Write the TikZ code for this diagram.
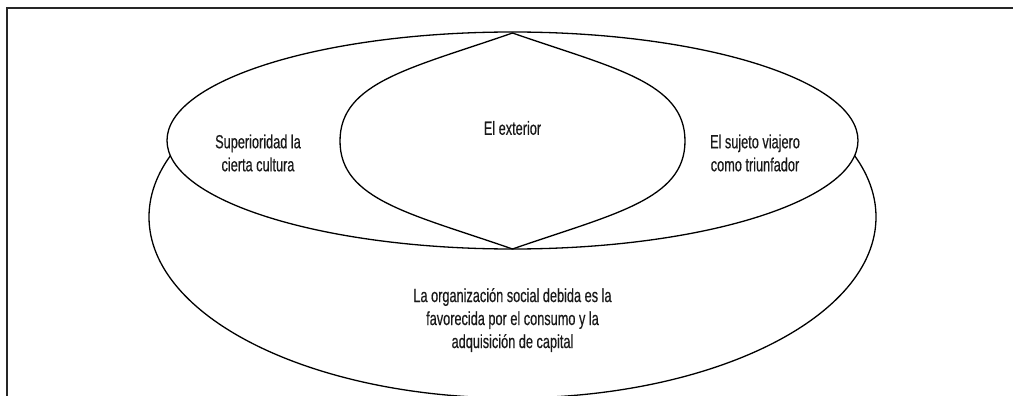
\documentclass[tikz,border=0pt]{standalone}
\usepackage{fontspec}
\setmainfont[FakeStretch=0.67,FakeBold=0.4]{Liberation Sans}
\usetikzlibrary{shapes.geometric}
\tikzset{
  shape line/.style={draw=black, line width=1.3pt, fill=white},
  frame line/.style={draw=black!85, line width=1.8pt},
  label text/.style={font=\fontsize{19}{23}\selectfont, align=center, text=black!90, inner sep=0pt},
}
\begin{document}
\begin{tikzpicture}[x=1pt,y=-1pt]
\useasboundingbox (0,0) rectangle (1013,396);
\clip (0,0) rectangle (1013,396);
% frame (top and left)
\coordinate (fl) at (7,397);
\coordinate (fc) at (7,8);
\coordinate (fr) at (1014,8);
\draw[frame line] (fl) -- (fc) -- (fr);
% large ellipse
\node[ellipse, shape line, minimum width=727pt, minimum height=362pt, inner sep=0pt] (big) at (512.5,217) {};
% upper ellipse
\node[ellipse, shape line, minimum width=691pt, minimum height=217pt, inner sep=0pt] (upper) at (512.5,140.5) {};
% lens
\coordinate (lt) at (512.5,33);
\coordinate (lb) at (512.5,249);
\coordinate (ll) at (340,141);
\coordinate (lr) at (685,141);
\path[shape line] (lt) .. controls (412,68) and (340,82) .. (ll)
  .. controls (340,200) and (412,214) .. (lb)
  .. controls (613,214) and (685,200) .. (lr)
  .. controls (685,82) and (613,68) .. (lt) -- cycle;
% texts
\node[label text] (tleft) at (258,153) {Superioridad la\\cierta cultura};
\node[label text] (tmid) at (512.5,128) {El exterior};
\node[label text] (tright) at (755,153) {El sujeto viajero\\como triunfador};
\node[label text] (tbot) at (512.5,320) {La organización social debida es la\\favorecida por el consumo y la\\adquisición de capital};
\end{tikzpicture}
\end{document}
